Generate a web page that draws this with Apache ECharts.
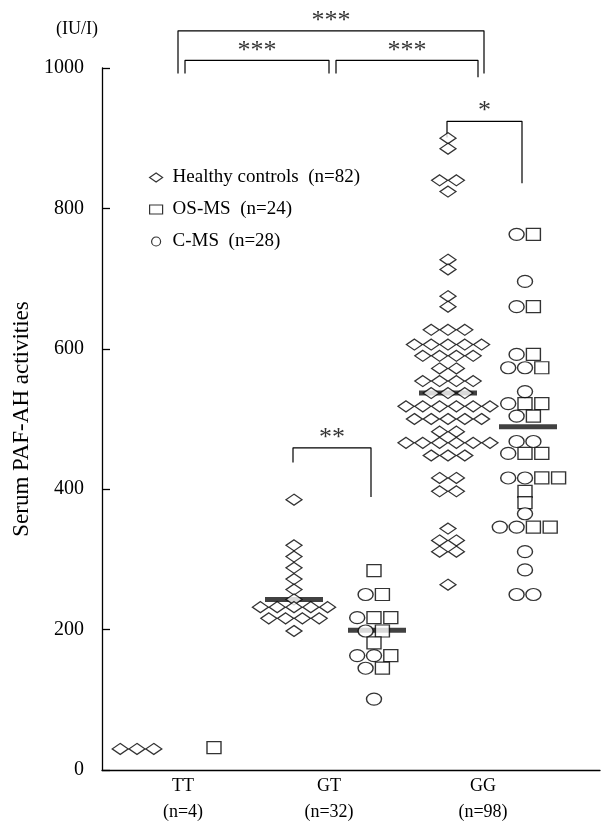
<!DOCTYPE html>
<html><head><meta charset="utf-8">
<script src="https://cdn.jsdelivr.net/npm/echarts@6/dist/echarts.min.js"></script>
<style>html,body{margin:0;padding:0;background:#fff}#c{width:604px;height:824px}</style>
</head><body><div id="c"></div>
<script>
// ---------- data ----------
const genotypes = ['TT', 'GT', 'GG'];
const genotypeN = [4, 32, 98];
const yTicks = [0, 200, 400, 600, 800, 1000];
const seriesNames = ['Healthy controls  (n=82)', 'OS-MS  (n=24)', 'C-MS  (n=28)'];

// points: [swarm slot, value (IU/l)]
const healthyTT = [[-2, 30], [0, 30], [2, 30]];
const healthyGT = [[0, 385], [0, 320], [0, 304], [0, 288], [0, 272], [0, 257], [0, 243],
  [-4, 232], [-2, 232], [0, 232], [2, 232], [4, 232],
  [-3, 216], [-1, 216], [1, 216], [3, 216], [0, 198]];
const healthyGG = [[0, 900], [0, 885], [-1, 840], [1, 840], [0, 824], [0, 727], [0, 713], [0, 675], [0, 660],
  [-2, 627], [0, 627], [2, 627],
  [-4, 606], [-2, 606], [0, 606], [2, 606], [4, 606],
  [-3, 590], [-1, 590], [1, 590], [3, 590],
  [-1, 572], [1, 572],
  [-3, 554], [-1, 554], [1, 554], [3, 554],
  [-2, 537], [0, 537], [2, 537],
  [-5, 518], [-3, 518], [-1, 518], [1, 518], [3, 518], [5, 518],
  [-4, 500], [-2, 500], [0, 500], [2, 500], [4, 500],
  [-1, 482], [1, 482],
  [-5, 466], [-3, 466], [-1, 466], [1, 466], [3, 466], [5, 466],
  [-2, 448], [0, 448], [2, 448],
  [-1, 416], [1, 416], [-1, 397], [1, 397],
  [0, 344], [-1, 327], [1, 327], [-1, 311], [1, 311], [0, 264]];

const osmsTT = [[0, 32]];
const osmsGT = [[0, 284], [1, 250], [0, 217], [2, 217], [1, 198], [0, 181], [2, 163], [1, 145]];
const osmsGG = [[1, 763], [1, 660], [1, 592], [2, 573], [0, 522], [2, 522], [1, 504],
  [0, 451], [2, 451], [2, 416], [4, 416], [0, 397], [0, 381], [1, 346], [3, 346]];

const cmsTT = [];
const cmsGT = [[-1, 250], [-2, 217], [-1, 198], [-2, 163], [0, 163], [-1, 145], [0, 101]];
const cmsGG = [[-1, 763], [0, 696], [-1, 660], [-1, 592], [-2, 573], [0, 573], [0, 539],
  [-2, 522], [-1, 504], [-1, 468], [1, 468], [-2, 451], [-2, 416], [0, 416],
  [0, 365], [-3, 346], [-1, 346], [0, 311], [0, 285], [-1, 250], [1, 250]];

const meanHealthy = [null, 243, 537];
const meanMS = [null, 199, 489];

const bracketLabels = ['***', '***', '***', '*', '**'];

// ---------- layout ----------
const X_MAX = 498;
const labelX = [81, 227, 381];
const healthyX = [35, 192, 346];
const msX = [112, 272, 423];
const SLOT = 8.4;

function place(arr, cx) { return arr.map(p => [cx + p[0] * SLOT, p[1]]); }
const healthyData = [].concat(place(healthyTT, healthyX[0]), place(healthyGT, healthyX[1]), place(healthyGG, healthyX[2]));
const osData = [].concat(place(osmsTT, msX[0]), place(osmsGT, msX[1]), place(osmsGG, msX[2]));
const cData = [].concat(place(cmsTT, msX[0]), place(cmsGT, msX[1]), place(cmsGG, msX[2]));
const meanData = [];
meanHealthy.forEach((m, i) => { if (m != null) meanData.push([healthyX[i], m]); });
meanMS.forEach((m, i) => { if (m != null) meanData.push([msX[i] + 3, m]); });

// bracket geometry [x1, x2, top, end1, end2, labelY]
const bracketGeom = [
  [76, 382, 1053, 992, 992, 1066],
  [83, 227, 1011, 992, 992, 1024],
  [234, 376, 1011, 992, 987, 1024],
  [345, 420, 924, 901, 836, 938],
  [191, 269, 459, 438, 389, 472]
];

const FONT = 'Liberation Serif';
const black = '#000';
const sym = { color: '#fff', borderColor: black, borderWidth: 1.3 };

const series = [
  { type: 'scatter', name: 'mean', data: meanData, symbol: 'rect', symbolSize: [58, 5],
    itemStyle: { color: '#111' }, z: 1, silent: true },
  { type: 'scatter', name: seriesNames[0], data: healthyData, symbol: 'diamond', symbolSize: [16, 11], itemStyle: sym, z: 3 },
  { type: 'scatter', name: seriesNames[1], data: osData, symbol: 'rect', symbolSize: [14, 12], itemStyle: sym, z: 3 },
  { type: 'scatter', name: seriesNames[2], data: cData, symbol: 'circle', symbolSize: [15, 12], itemStyle: sym, z: 3 }
];
bracketGeom.forEach((b, i) => {
  series.push({ type: 'line', data: [[b[0], b[3]], [b[0], b[2]], [b[1], b[2]], [b[1], b[4]]],
    symbol: 'none', clip: false, silent: true, lineStyle: { color: black, width: 1.2 }, z: 2 });
  series.push({ type: 'scatter', data: [{ value: [(b[0] + b[1]) / 2, b[5]], name: bracketLabels[i] }],
    symbolSize: 0.1, clip: false, silent: true, itemStyle: { color: 'transparent' },
    label: { show: true, position: 'inside', formatter: '{b}', color: black, fontFamily: FONT, fontSize: 26 } });
});

const chart = echarts.init(document.getElementById('c'), null, { renderer: 'canvas' });
chart.setOption({
  animation: false,
  backgroundColor: '#fff',
  grid: { left: 102, right: 4, top: 68, bottom: 54, containLabel: false, outerBoundsMode: 'none' },
  graphic: [{ type: 'text', left: 56, top: 20, style: { text: '(IU/I)', font: '18px "Liberation Serif"', fill: black } }],
  legend: {
    orient: 'vertical', left: 144, top: 163, itemGap: 13, itemWidth: 13, itemHeight: 9,
    data: [
      { name: seriesNames[0], icon: 'diamond' },
      { name: seriesNames[1], icon: 'rect' },
      { name: seriesNames[2], icon: 'circle' }
    ],
    itemStyle: { color: '#fff', borderColor: black, borderWidth: 1.2 },
    textStyle: { fontFamily: FONT, fontSize: 19, color: black, padding: [0, 0, 0, 5] }, selectedMode: false
  },
  xAxis: {
    type: 'value', min: 0, max: X_MAX,
    axisLine: { show: true, lineStyle: { color: black, width: 1.3 } },
    axisTick: { show: false }, splitLine: { show: false },
    axisLabel: {
      customValues: labelX, margin: 3, color: black, fontFamily: FONT, fontSize: 18, lineHeight: 26,
      formatter: v => { const i = labelX.indexOf(v); return i < 0 ? '' : genotypes[i] + '\n(n=' + genotypeN[i] + ')'; }
    }
  },
  yAxis: {
    type: 'value', min: yTicks[0], max: yTicks[yTicks.length - 1], interval: 200,
    name: 'Serum PAF-AH activities', nameLocation: 'middle', nameGap: 58,
    nameTextStyle: { fontFamily: FONT, fontSize: 23, color: black },
    axisLine: { show: true, lineStyle: { color: black, width: 1.3 } },
    axisTick: { show: true, inside: true, length: 8, lineStyle: { color: black, width: 1.3 } },
    splitLine: { show: false },
    axisLabel: { margin: 18, color: black, fontFamily: FONT, fontSize: 20, formatter: v => String(v) }
  },
  series: series
});
</script></body></html>
